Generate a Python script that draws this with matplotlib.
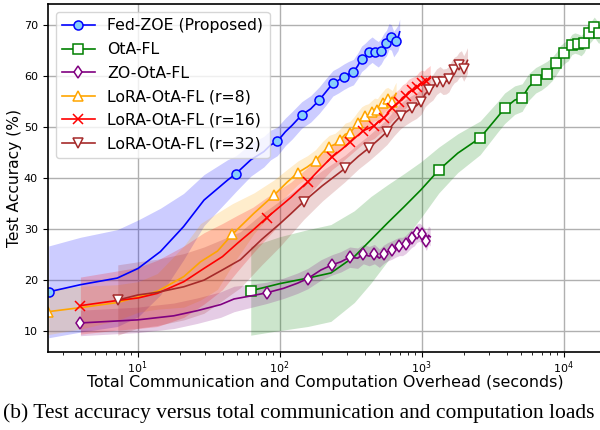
import numpy as np
import matplotlib
matplotlib.use("Agg")
import matplotlib.pyplot as plt

# ---------------- data ----------------
labels = ["Fed-ZOE (Proposed)", "OtA-FL", "ZO-OtA-FL",
          "LoRA-OtA-FL (r=8)", "LoRA-OtA-FL (r=16)", "LoRA-OtA-FL (r=32)"]

# Fed-ZOE
fz_x = [2.37, 3.96, 7.2, 10.1, 14.5, 21.1, 29.4, 43, 49.4, 62.8, 77.5, 86.5, 96.4, 110, 123,
        143.4, 166, 190.4, 212, 237.4, 260, 284.4, 307, 331.4, 355, 378.4, 402, 425.4, 449,
        472.4, 496, 519.4, 543, 566.4, 590, 613.4, 637, 660.4, 683, 702]
fz_y = [17.7, 19.1, 20.4, 22.3, 25.6, 30.5, 35.7, 39.6, 40.9, 43.6, 45.2, 46.5, 47.2, 49.1, 50.4,
        52.4, 53.6, 55.3, 56.9, 58.6, 59.2, 59.9, 60.4, 60.8, 62.0, 63.4, 64.0, 64.7, 65.2,
        64.7, 64.3, 64.9, 65.9, 66.5, 67.8, 67.6, 66.3, 66.9, 67.5, 68.7]
fz_s = [9.0, 9.3, 9.5, 9.5, 8.5, 6.5, 5.0, 4.0, 3.5, 3.2, 3.0, 2.9, 2.8, 2.7, 2.7,
        2.6, 2.6, 2.6, 2.6, 2.5, 2.5, 2.5, 2.5, 2.5, 2.5, 2.5, 2.5, 2.5, 2.5,
        2.5, 2.5, 2.5, 2.5, 2.5, 2.5, 2.5, 2.5, 2.5, 2.5, 2.5]
fz_m = [0, 8, 12, 15, 17, 19, 21, 23, 25, 27, 29, 31, 33, 35, 37]

# OtA-FL
ota_x = [62.7, 100, 158, 230, 336, 440, 576, 755, 990, 1325, 1800, 2587, 3433, 3849, 4530,
         5111, 5700, 6373, 7000, 7635, 8300, 8897, 9500, 10159, 10800, 11421, 12000, 12683,
         13300, 13945, 14600, 15207, 15800, 16469, 17100, 17731, 18400, 18866]
ota_y = [17.9, 19.3, 20.4, 21.4, 24.6, 27.9, 31.2, 34.4, 37.7, 41.6, 44.9, 47.9, 52.0, 53.7, 55.3,
         55.8, 57.9, 59.2, 59.8, 60.5, 61.4, 62.5, 63.8, 64.6, 65.0, 66.2, 66.5, 66.3,
         66.0, 66.6, 67.8, 68.4, 68.9, 69.6, 69.0, 68.4, 69.5, 70.0]
ota_s = [8.7, 9.2, 9.5, 9.5, 9.0, 8.5, 7.5, 6.5, 5.5, 4.5, 3.8, 3.3, 3.0, 3.0, 2.8,
         2.7, 2.6, 2.5, 2.5, 2.4, 2.3, 2.2, 2.2, 2.1, 2.0, 2.0, 2.0, 2.0,
         2.0, 2.0, 2.0, 2.0, 2.0, 2.0, 2.0, 2.0, 2.0, 2.0]
ota_m = [0, 9, 11, 13, 15, 17, 19, 21, 23, 25, 27, 29, 31, 33, 35]

# ZO-OtA-FL
zo_x = [3.96, 10, 18, 26.3, 38.5, 47.8, 60, 81, 107, 134, 158, 196, 235, 271, 312, 355, 389,
        428, 466, 505, 543, 581, 620, 658, 697, 735, 774, 812, 851, 889, 928, 966, 1005,
        1043, 1082, 1120, 1151]
zo_y = [11.6, 12.2, 13.0, 14.0, 15.2, 16.3, 16.8, 17.5, 18.4, 19.4, 20.3, 22.0, 23.0, 23.6, 24.5, 24.3, 25.1,
        24.7, 25.1, 24.3, 25.1, 25.6, 25.9, 26.3, 26.6, 26.6, 27.0, 27.6, 28.2, 28.5, 29.2, 29.4, 29.0,
        28.5, 27.6, 28.8, 28.5]
zo_s = [2.5, 2.5, 2.5, 2.5, 2.5, 2.5, 2.3, 2.1, 2.0, 2.0, 2.0, 2.0, 2.0, 2.0, 2.0, 2.0, 1.9,
        1.9, 1.9, 1.8, 1.8, 1.8, 1.8, 1.8, 1.8, 1.8, 1.8, 1.8, 1.8, 1.8, 1.8, 1.8, 1.8,
        1.8, 1.8, 1.8, 1.8]
zo_m = [0, 7, 10, 12, 14, 16, 18, 20, 22, 24, 26, 28, 30, 32, 34]

# LoRA r=8
r8_x = [2.33, 3.96, 7.2, 10.1, 13.8, 21.2, 27.8, 36.6, 46.6, 66, 90.9, 113, 135.2, 157, 179.5,
        201, 223.8, 246, 268.1, 290, 312.4, 334, 356.7, 379, 401, 423, 445.3, 467, 489.6,
        512, 533.9, 556, 578.2, 600, 622.5, 645, 662]
r8_y = [13.8, 14.6, 15.6, 16.7, 17.8, 20.7, 23.6, 25.7, 29.0, 33.1, 36.6, 39.2, 41.1, 42.2, 43.4,
        45.0, 46.2, 46.6, 47.5, 48.6, 48.9, 49.8, 50.9, 51.8, 52.2, 52.4, 53.0, 53.5, 53.4,
        54.2, 54.8, 55.4, 55.6, 55.3, 55.0, 56.0, 56.6]
r8_s = [4.5, 4.2, 3.5, 3.0, 3.5, 6.0, 7.5, 7.5, 6.0, 4.0, 3.0, 2.5, 2.3, 2.2, 2.2,
        2.2, 2.2, 2.2, 2.2, 2.2, 2.2, 2.2, 2.2, 2.2, 2.2, 2.2, 2.2, 2.2, 2.2,
        2.2, 2.2, 2.2, 2.2, 2.2, 2.2, 2.2, 2.2]
r8_m = [0, 8, 10, 12, 14, 16, 18, 20, 22, 24, 26, 28, 30, 32, 34]

# LoRA r=16
r16_x = [3.96, 7.2, 10.1, 13.8, 21.2, 29.4, 39.6, 50.4, 65, 81, 120, 158, 196, 235, 273, 312,
         350, 389, 427, 466, 504, 543, 581, 620, 658, 697, 735, 774, 812, 851, 889, 928, 966,
         1005, 1043, 1082, 1120, 1151]
r16_y = [15.0, 16.0, 16.5, 17.4, 19.7, 22.3, 24.6, 27.2, 29.8, 32.2, 36.2, 39.3, 42.0, 44.2, 45.6, 47.0,
         48.2, 49.3, 49.8, 50.3, 51.2, 51.8, 52.8, 53.8, 54.4, 55.0, 55.8, 56.2, 56.9, 57.2, 57.4, 57.8, 58.4,
         58.7, 58.5, 59.0, 59.3, 59.6]
r16_s = [5.6, 5.8, 6.0, 6.5, 7.0, 7.0, 6.5, 5.5, 4.5, 4.0, 3.0, 2.8, 2.6, 2.5, 2.5, 2.5,
         2.5, 2.5, 2.5, 2.5, 2.5, 2.5, 2.5, 2.5, 2.5, 2.5, 2.5, 2.5, 2.5, 2.5, 2.5, 2.5, 2.5,
         2.5, 2.5, 2.5, 2.5, 2.5]
r16_m = [0, 9, 11, 13, 15, 17, 19, 21, 23, 25, 27, 29, 31, 33, 35]

# LoRA r=32
r32_x = [7.26, 10.1, 13.8, 21.2, 29.4, 39.6, 53, 75, 100, 120, 148, 200, 289, 360, 430, 500,
         571, 640, 712, 780, 853, 920, 994, 1060, 1135, 1200, 1276, 1350, 1417, 1490, 1558,
         1630, 1699, 1770, 1840, 1910, 1981, 2050, 2108]
r32_y = [16.1, 17.1, 17.6, 18.7, 20.0, 22.0, 24.0, 28.0, 31.0, 33.0, 35.4, 38.5, 41.9, 44.3, 46.0, 47.6,
         49.1, 50.8, 52.2, 53.0, 53.7, 54.2, 55.0, 56.5, 57.3, 57.8, 58.9, 59.4, 58.9, 59.0, 59.4,
         60.5, 61.2, 61.5, 62.2, 62.5, 61.5, 62.3, 63.1]
r32_s = [6.9, 6.5, 6.5, 6.5, 6.5, 6.0, 5.5, 5.0, 4.5, 4.0, 3.5, 3.0, 2.6, 2.5, 2.5, 2.5,
         2.5, 2.5, 2.5, 2.5, 2.5, 2.5, 2.5, 2.5, 2.5, 2.5, 2.5, 2.5, 2.5, 2.5, 2.5,
         2.5, 2.5, 2.5, 2.5, 2.5, 2.5, 2.5, 2.5]
r32_m = [0, 10, 12, 14, 16, 18, 20, 22, 24, 26, 28, 30, 32, 34, 36]

yticks = [10, 20, 30, 40, 50, 60, 70]
xlabel = "Total Communication and Computation Overhead (seconds)"
ylabel = "Test Accuracy (%)"
caption = "(b) Test accuracy versus total communication and computation loads"

# ---------------- plot ----------------
series = [
    (fz_x, fz_y, fz_s, fz_m, "blue", "o", "#87cefa"),
    (ota_x, ota_y, ota_s, ota_m, "green", "s", "white"),
    (zo_x, zo_y, zo_s, zo_m, "purple", "d", "white"),
    (r8_x, r8_y, r8_s, r8_m, "orange", "^", "white"),
    (r16_x, r16_y, r16_s, r16_m, "red", "x", "white"),
    (r32_x, r32_y, r32_s, r32_m, "brown", "v", "white"),
]

fig = plt.figure(figsize=(6.0, 4.3), dpi=100)
ax = fig.add_axes([0.0795, 0.1814, 0.924, 0.8086])

for (x, y, s, m, c, mk, mfc), lab in zip(series, labels):
    x = np.array(x); y = np.array(y); s = np.array(s)
    ax.plot(x, y, color=c, lw=1.2, marker=mk, markevery=m, markersize=6.5,
            markerfacecolor=mfc, markeredgecolor=c, markeredgewidth=1.1, label=lab)
    ax.fill_between(x, y - s, y + s, color=c, alpha=0.2, lw=0)

ax.set_xscale("log")
ax.set_xlim(2.33, 18700)
ax.set_ylim(5.9, 74.1)
ax.set_yticks(yticks)
ax.grid(True, which="major", color="#b0b0b0", lw=1.0)
ax.set_axisbelow(True)
ax.tick_params(labelsize=8)
ax.tick_params(axis="x", pad=2)
ax.set_xlabel(xlabel, fontsize=11.4, labelpad=-1)
ax.set_ylabel(ylabel, fontsize=11.2, labelpad=1)
for sp in ax.spines.values():
    sp.set_linewidth(1.2)

ax.legend(loc="upper left", fontsize=11.3, framealpha=0.8, handlelength=2.1,
          labelspacing=0.55)

fig.text(0.005, 0.04, caption, family="Liberation Serif", fontsize=15.5,
         ha="left", va="center")

fig.savefig("out.png", dpi=100)
